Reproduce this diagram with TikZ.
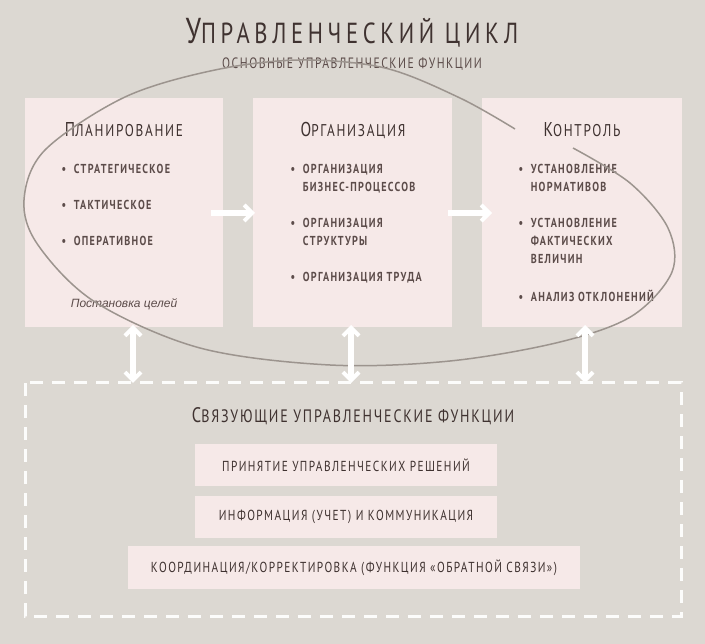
\documentclass[tikz,border=0pt]{standalone}
\usepackage{fontspec}
\setmainfont{PT Sans}
\newfontfamily\cond[FakeStretch=0.78,LetterSpace=10,BoldFont={PT Sans Bold}]{PT Sans}
\newfontfamily\condt[FakeStretch=0.78,LetterSpace=16]{PT Sans}
\newfontfamily\lib{Liberation Sans}
\usetikzlibrary{arrows.meta}
\definecolor{bg}{HTML}{DCD8D2}
\definecolor{pinkbox}{HTML}{F6E9E8}
\definecolor{dark}{HTML}{3F3230}
\definecolor{mid}{HTML}{5C4C4A}
\definecolor{loopc}{HTML}{9C948E}
\begin{document}
\begin{tikzpicture}[x=1pt,y=-1pt,
  box/.style={fill=pinkbox,draw=none},
  head/.style={font=\cond\fontsize{20}{22}\selectfont,text=dark,anchor=base},
  item/.style={font=\cond\bfseries\fontsize{13}{18}\selectfont,text=mid,anchor=north west,align=left},
  inner/.style={fill=pinkbox,font=\cond\fontsize{14.5}{18}\selectfont,text=dark},
  wa/.style={draw=white,line width=6pt,-{Straight Barb[length=8pt,width=16pt,line width=4pt]}},
  wd/.style={draw=white,line width=6pt,{Straight Barb[length=8pt,width=16pt,line width=4pt]}-{Straight Barb[length=8pt,width=16pt,line width=4pt]}}]
\fill[bg] (0,0) rectangle (705,644);
\useasboundingbox (0,0) rectangle (705,644);
\node[font=\condt\fontsize{36}{36}\selectfont,text=dark,anchor=base] (title) at (352,44) {У\fontsize{29}{30}\selectfont ПРАВЛЕНЧЕСКИЙ ЦИКЛ};
\node[font=\cond\fontsize{15}{16}\selectfont,text=mid,anchor=base] (sub) at (352,69) {ОСНОВНЫЕ УПРАВЛЕНЧЕСКИЕ ФУНКЦИИ};
% boxes
\fill[box] (25,98) rectangle (223,327);
\fill[box] (253,98) rectangle (452,327);
\fill[box] (482,98) rectangle (682,327);
\node[head] (h1) at (124,137) {П\fontsize{17}{18}\selectfont ЛАНИРОВАНИЕ};
\node[head] (h2) at (353,137) {О\fontsize{17}{18}\selectfont РГАНИЗАЦИЯ};
\node[head] (h3) at (582,137) {К\fontsize{17}{18}\selectfont ОНТРОЛЬ};
\node[item] (p1) at (58,161) {•\ \ СТРАТЕГИЧЕСКОЕ};
\node[item] (p2) at (58,197) {•\ \ ТАКТИЧЕСКОЕ};
\node[item] (p3) at (58,233) {•\ \ ОПЕРАТИВНОЕ};
\node[font=\lib\itshape\fontsize{12}{14}\selectfont,text=mid] (goal) at (124,304) {Постановка целей};
\node[item] (o1) at (287,161) {•\ \ ОРГАНИЗАЦИЯ\\\phantom{•\ \ }БИЗНЕС-ПРОЦЕССОВ};
\node[item] (o2) at (287,215) {•\ \ ОРГАНИЗАЦИЯ\\\phantom{•\ \ }СТРУКТУРЫ};
\node[item] (o3) at (287,269) {•\ \ ОРГАНИЗАЦИЯ ТРУДА};
\node[item] (k1) at (515,161) {•\ \ УСТАНОВЛЕНИЕ\\\phantom{•\ \ }НОРМАТИВОВ};
\node[item] (k2) at (515,215) {•\ \ УСТАНОВЛЕНИЕ\\\phantom{•\ \ }ФАКТИЧЕСКИХ\\\phantom{•\ \ }ВЕЛИЧИН};
\node[item] (k3) at (515,287) {•\ \ АНАЛИЗ ОТКЛОНЕНИЙ};
% horizontal arrows
\coordinate (a1s) at (211,213); \coordinate (a1e) at (255,213);
\coordinate (a2s) at (448,213); \coordinate (a2e) at (492,213);
\draw[wa] (a1s) -- (a1e);
\draw[wa] (a2s) -- (a2e);
% loop curve
\draw[draw=loopc,line width=1.5pt] plot[smooth,tension=0.55] coordinates {(573,148) (630,183) (668,228) (672,272) (632,316) (560,342) (450,361) (330,365) (200,348) (95,302) (38,245) (24,200) (45,150) (125,97) (215,70) (300,60) (385,68) (460,98) (515,129)};
% vertical double arrows
\coordinate (v1t) at (133,325); \coordinate (v1b) at (133,383);
\coordinate (v2t) at (351,325); \coordinate (v2b) at (351,383);
\coordinate (v3t) at (585,325); \coordinate (v3b) at (585,383);
\draw[wd] (v1t) -- (v1b);
\draw[wd] (v2t) -- (v2b);
\draw[wd] (v3t) -- (v3b);
% dashed area
\draw[draw=white!92!bg,line width=3pt,dash pattern=on 13pt off 9pt] (25,383) rectangle (681,616);
\node[font=\cond\fontsize{21}{22}\selectfont,text=dark,anchor=base] (bh) at (353,423) {С\fontsize{18}{20}\selectfont ВЯЗУЮЩИЕ УПРАВЛЕНЧЕСКИЕ ФУНКЦИИ};
\node[inner,minimum width=302pt,minimum height=42pt] (b1) at (346,465) {ПРИНЯТИЕ УПРАВЛЕНЧЕСКИХ РЕШЕНИЙ};
\node[inner,minimum width=302pt,minimum height=42pt] (b2) at (346,517) {ИНФОРМАЦИЯ (УЧЕТ) И КОММУНИКАЦИЯ};
\node[inner,minimum width=452pt,minimum height=43pt] (b3) at (354,567.5) {КООРДИНАЦИЯ/КОРРЕКТИРОВКА (ФУНКЦИЯ «ОБРАТНОЙ СВЯЗИ»)};
\end{tikzpicture}
\end{document}
